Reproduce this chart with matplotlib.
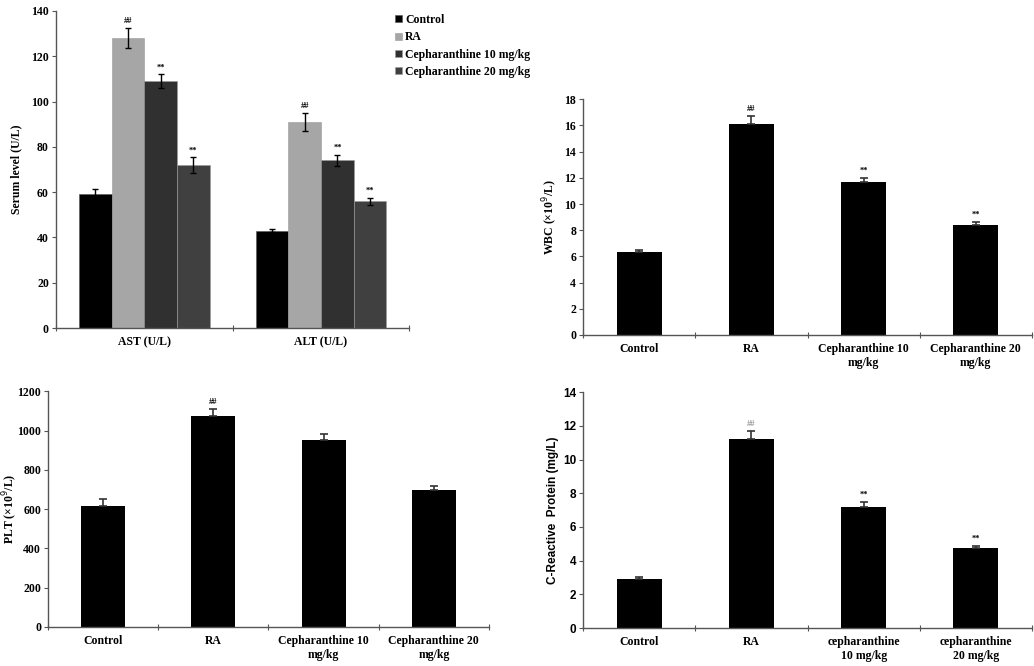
import numpy as np
import matplotlib
matplotlib.use("Agg")
import matplotlib.pyplot as plt

SERIF = ["Liberation Serif", "DejaVu Serif"]
SANS = ["Liberation Sans", "DejaVu Sans"]

# serum enzymes (top left)
enzymes = ["AST (U/L)", "ALT (U/L)"]
groups = ["Control", "RA", "Cepharanthine 10 mg/kg", "Cepharanthine 20 mg/kg"]
group_colors = ["#000000", "#a6a6a6", "#303030", "#404040"]
serum_mean = {
    "Control": [59, 43],
    "RA": [128, 91],
    "Cepharanthine 10 mg/kg": [109, 74],
    "Cepharanthine 20 mg/kg": [72, 56],
}
serum_err = {
    "Control": [2.5, 0.7],
    "RA": [4.5, 4.0],
    "Cepharanthine 10 mg/kg": [3.0, 2.5],
    "Cepharanthine 20 mg/kg": [3.5, 1.5],
}
serum_marks = {
    "Control": ["", ""],
    "RA": ["##", "##"],
    "Cepharanthine 10 mg/kg": ["**", "**"],
    "Cepharanthine 20 mg/kg": ["**", "**"],
}

# single-series panels
cats_upper = ["Control", "RA", "Cepharanthine 10\nmg/kg", "Cepharanthine 20\nmg/kg"]
cats_lower = ["Control", "RA", "cepharanthine\n10 mg/kg", "cepharanthine\n20 mg/kg"]

wbc = [6.3, 16.1, 11.7, 8.4]
wbc_err = [0.2, 0.6, 0.3, 0.25]
wbc_marks = ["", "##", "**", "**"]

plt_vals = [615, 1075, 950, 695]
plt_err = [35, 35, 30, 25]
plt_marks = ["", "##", "", ""]

crp = [2.9, 11.2, 7.2, 4.75]
crp_err = [0.15, 0.5, 0.3, 0.15]
crp_marks = ["", "##", "**", "**"]
crp_mark_colors = ["black", "#999999", "black", "black"]


def style_axes(ax, ymax, ystep, ncats, tickfont):
    for s in ("top", "right"):
        ax.spines[s].set_visible(False)
    for s in ("left", "bottom"):
        ax.spines[s].set_color("#555555")
        ax.spines[s].set_linewidth(1.0)
    ax.set_ylim(0, ymax)
    ax.set_yticks(np.arange(0, ymax + ystep / 2, ystep))
    ax.set_xlim(-0.5, ncats - 0.5)
    # category boundaries carry the ticks, labels sit on minor ticks
    ax.set_xticks(np.arange(-0.5, ncats, 1.0))
    ax.set_xticklabels([])
    ax.tick_params(axis="x", which="major", direction="inout", length=5, color="#555555")
    ax.tick_params(axis="x", which="minor", length=0, pad=6)
    ax.tick_params(axis="y", direction="out", length=3, color="#555555", pad=2)
    for lab in ax.get_yticklabels():
        lab.set_fontproperties(tickfont)


def single_panel(rect, values, errs, marks, cats, ymax, ystep, ylabel,
                 tick_family=SERIF, label_family=SERIF, mark_colors=None):
    ax = fig.add_axes(rect)
    x = np.arange(len(values))
    ax.bar(x, values, width=0.4, color="black", zorder=2)
    ax.errorbar(x, values, yerr=[np.zeros(len(errs)), errs], fmt="none",
                ecolor="#333333", elinewidth=1.2, capsize=3, capthick=1.2, zorder=3)
    pad = ymax * 0.012
    mark_colors = mark_colors or ["black"] * len(values)
    for xi, v, e, m, c in zip(x, values, errs, marks, mark_colors):
        if m:
            ax.text(xi, v + e + pad, m, ha="center", va="bottom", fontsize=6,
                    fontweight="bold", family=SERIF, color=c)
    tf = matplotlib.font_manager.FontProperties(family=tick_family, weight="bold", size=8.5)
    style_axes(ax, ymax, ystep, len(values), tf)
    ax.set_xticks(x, minor=True)
    ax.set_xticklabels(cats, minor=True, fontsize=8.5, fontweight="bold", family=SERIF)
    ax.set_ylabel(ylabel, fontsize=8.5, fontweight="bold", family=label_family, labelpad=3)
    return ax


fig = plt.figure(figsize=(10.34, 6.66), dpi=100)

# --- serum level grouped bars
ax1 = fig.add_axes([0.054, 0.5075, 0.342, 0.476])
xg = np.arange(len(enzymes))
bw = 0.185
for i, g in enumerate(groups):
    pos = xg + (i - 1.5) * bw
    ax1.bar(pos, serum_mean[g], width=bw, color=group_colors[i], label=g,
            edgecolor="#9a9a9a" if i else "#555555", linewidth=0.4, zorder=2)
    ax1.errorbar(pos, serum_mean[g], yerr=serum_err[g], fmt="none", ecolor="black",
                 elinewidth=1.0, capsize=2.5, capthick=1.0, zorder=3)
    for p, v, e, m in zip(pos, serum_mean[g], serum_err[g], serum_marks[g]):
        if m:
            ax1.text(p, v + e + 1.2, m, ha="center", va="bottom", fontsize=6,
                     fontweight="bold", family=SERIF)
tf1 = matplotlib.font_manager.FontProperties(family=SERIF, weight="bold", size=8.5)
style_axes(ax1, 140, 20, len(enzymes), tf1)
ax1.set_xticks(xg, minor=True)
ax1.set_xticklabels(enzymes, minor=True, fontsize=8.5, fontweight="bold", family=SERIF)
ax1.set_ylabel("Serum level (U/L)", fontsize=8.5, fontweight="bold", family=SERIF, labelpad=6)
fig.legend(loc="upper left", bbox_to_anchor=(0.372, 0.995), frameon=False,
           handlelength=0.55, handleheight=0.55, handletextpad=0.3, labelspacing=0.45,
           prop=matplotlib.font_manager.FontProperties(family=SERIF, weight="bold", size=8.5))

# --- WBC
single_panel([0.564, 0.497, 0.434, 0.354], wbc, wbc_err, wbc_marks, cats_upper,
             18, 2, "WBC (×10$^9$/L)")

# --- PLT
ax3 = single_panel([0.0464, 0.0586, 0.4265, 0.354], plt_vals, plt_err, plt_marks, cats_upper,
                   1200, 200, "PLT (×10$^9$/L)")
ax3.yaxis.set_label_coords(-0.064, 0.5)

# --- CRP
single_panel([0.564, 0.057, 0.434, 0.354], crp, crp_err, crp_marks, cats_lower,
             14, 2, "C-Reactive  Protein (mg/L)", tick_family=SANS, label_family=SANS,
             mark_colors=crp_mark_colors)

fig.savefig("out.png", dpi=100)
